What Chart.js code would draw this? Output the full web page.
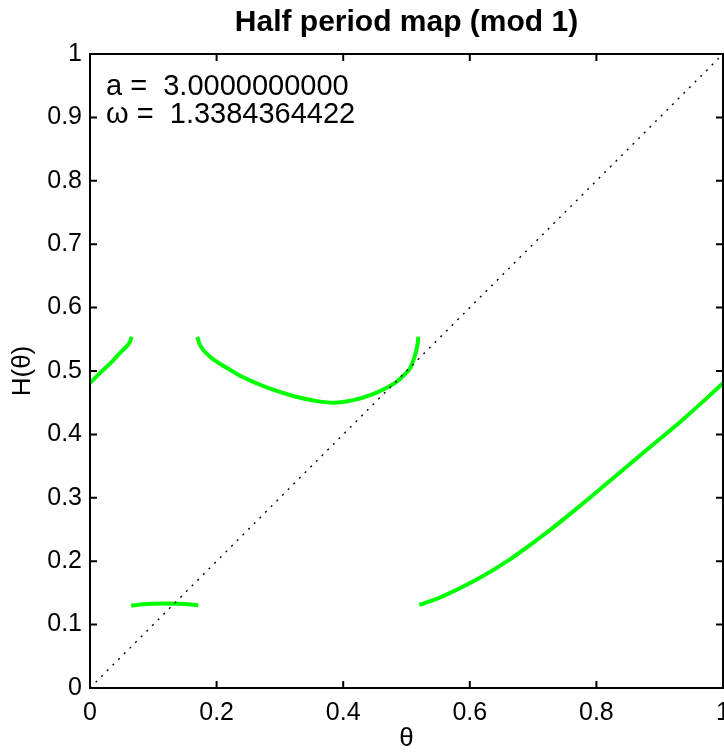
<!DOCTYPE html>
<html>
<head>
<meta charset="utf-8">
<script src="https://cdn.jsdelivr.net/npm/chart.js@4"></script>
<style>
  html, body { margin: 0; padding: 0; background: #fff; overflow: hidden; }
  canvas { display: block; }
</style>
</head>
<body>
<canvas id="myChart" width="760" height="753"></canvas>
<script>
// half period map pieces
var seg1Theta = [0, 0.016, 0.032, 0.045, 0.055, 0.0605, 0.064, 0.0655];
var seg1H     = [0.481, 0.497, 0.512, 0.526, 0.536, 0.542, 0.548, 0.554];

var seg2Theta = [0.065, 0.08, 0.10, 0.12, 0.14, 0.16, 0.171];
var seg2H     = [0.130, 0.1318, 0.1330, 0.1334, 0.1330, 0.1316, 0.1305];

var seg3Theta = [0.1695, 0.1738, 0.1896, 0.2054, 0.221, 0.242, 0.2633, 0.279, 0.321, 0.353, 0.384,
                 0.416, 0.448, 0.474, 0.4845, 0.4949, 0.5055, 0.5095, 0.5135, 0.5165, 0.518, 0.5187];
var seg3H     = [0.554, 0.541, 0.5226, 0.5115, 0.502, 0.490, 0.4805, 0.474, 0.4605, 0.4535, 0.450,
                 0.454, 0.464, 0.4765, 0.483, 0.4925, 0.504, 0.513, 0.525, 0.537, 0.546, 0.554];

var seg4Theta = [0.5203, 0.558, 0.6109, 0.6635, 0.7161, 0.7688, 0.8215, 0.874, 0.9373, 1.0];
var seg4H     = [0.131, 0.145, 0.171, 0.203, 0.241, 0.283, 0.327, 0.371, 0.424, 0.4806];

var diagTheta = [0, 1];
var diagH     = [0, 1];

var xTicks = [0, 0.2, 0.4, 0.6, 0.8, 1];
var yTicks = [0, 0.1, 0.2, 0.3, 0.4, 0.5, 0.6, 0.7, 0.8, 0.9, 1];

var titleText = 'Half period map (mod 1)';
var aValue = '3.0000000000';
var omegaValue = '1.3384364422';

var FONT = '"Liberation Sans", Arial, Helvetica, sans-serif';

function pts(xs, ys){
    return xs.map(function(v, i){ return {x: v, y: ys[i]}; });
}

function tickText(v){
    return String(Math.round(v * 10) / 10);
}

function greenSet(xs, ys){
    return {
        data: pts(xs, ys),
        xAxisID: 'x',
        yAxisID: 'y',
        borderColor: '#00ff00',
        borderWidth: 4,
        pointRadius: 0,
        cubicInterpolationMode: 'monotone',
        order: 1
    };
}

// MATLAB-like box with inward ticks, plus the parameter text
var boxPlugin = {
    id: 'matlabBox',
    afterDatasetsDraw: function(chart){
        var ctx = chart.ctx, a = chart.chartArea;
        var xs = chart.scales.x, ys = chart.scales.y;
        var tl = 7;
        ctx.save();
        ctx.strokeStyle = '#000';
        ctx.lineWidth = 2;
        ctx.beginPath();
        xTicks.forEach(function(v){
            var px = xs.getPixelForValue(v);
            ctx.moveTo(px, a.bottom); ctx.lineTo(px, a.bottom - tl);
            ctx.moveTo(px, a.top); ctx.lineTo(px, a.top + tl);
        });
        yTicks.forEach(function(v){
            var py = ys.getPixelForValue(v);
            ctx.moveTo(a.left, py); ctx.lineTo(a.left + tl, py);
            ctx.moveTo(a.right, py); ctx.lineTo(a.right - tl, py);
        });
        ctx.stroke();
        ctx.strokeRect(a.left, a.top, a.right - a.left, a.bottom - a.top);

        ctx.fillStyle = '#000';
        ctx.font = '29px ' + FONT;
        ctx.textAlign = 'left';
        ctx.textBaseline = 'alphabetic';
        ctx.fillText('a =  ' + aValue, a.left + 16, a.top + 41);
        ctx.fillText('\u03c9 =  ' + omegaValue, a.left + 16, a.top + 69);
        ctx.restore();
    }
};

var ctx = document.getElementById('myChart').getContext('2d');

var myChart = new Chart(ctx, {
    type: 'scatter',
    data: {
        datasets: [
            {
                data: pts(diagTheta, diagH),
                xAxisID: 'x',
                yAxisID: 'y',
                showLine: true,
                borderColor: '#000',
                borderWidth: 1.4,
                borderDash: [2, 6],
                pointRadius: 0,
                order: 0
            },
            greenSet(seg1Theta, seg1H),
            greenSet(seg2Theta, seg2H),
            greenSet(seg3Theta, seg3H),
            greenSet(seg4Theta, seg4H)
        ]
    },
    options: {
        responsive: false,
        animation: false,
        devicePixelRatio: 1,
        showLine: true,
        layout: { padding: { top: 0, right: 37, bottom: 0, left: 0 } },
        plugins: {
            legend: { display: false },
            tooltip: { enabled: false },
            title: { display: false }
        },
        scales: {
            x: {
                type: 'linear',
                position: 'bottom',
                min: 0, max: 1,
                afterBuildTicks: function(s){ s.ticks = xTicks.map(function(v){ return {value: v}; }); },
                afterFit: function(s){ s.height = 65; },
                grid: { display: false, drawTicks: false },
                border: { display: false },
                ticks: {
                    color: '#000',
                    padding: 10,
                    maxRotation: 0,
                    callback: tickText,
                    font: { family: FONT, size: 25 }
                },
                title: {
                    display: true,
                    text: '\u03b8',
                    color: '#000',
                    font: { family: FONT, size: 26, lineHeight: 1 },
                    padding: { top: 0, bottom: 1 }
                }
            },
            // top axis only carries the title so it is centred on the plot box
            x2: {
                type: 'linear',
                position: 'top',
                min: 0, max: 1,
                afterFit: function(s){ s.height = 54; },
                grid: { display: false, drawTicks: false },
                border: { display: false },
                ticks: { display: false },
                title: {
                    display: true,
                    text: titleText,
                    color: '#000',
                    font: { family: FONT, size: 30, weight: 'bold', lineHeight: 1 },
                    padding: { top: 8, bottom: 0 }
                }
            },
            y: {
                type: 'linear',
                min: 0, max: 1,
                afterBuildTicks: function(s){ s.ticks = yTicks.map(function(v){ return {value: v}; }); },
                afterFit: function(s){ s.width = 90; },
                grid: { display: false, drawTicks: false },
                border: { display: false },
                ticks: {
                    color: '#000',
                    padding: 8,
                    callback: tickText,
                    font: { family: FONT, size: 25 }
                },
                title: {
                    display: true,
                    text: 'H(\u03b8)',
                    color: '#000',
                    font: { family: FONT, size: 26, lineHeight: 1 },
                    padding: { top: 10, bottom: 0 }
                }
            }
        }
    },
    plugins: [boxPlugin]
});
</script>
</body>
</html>
